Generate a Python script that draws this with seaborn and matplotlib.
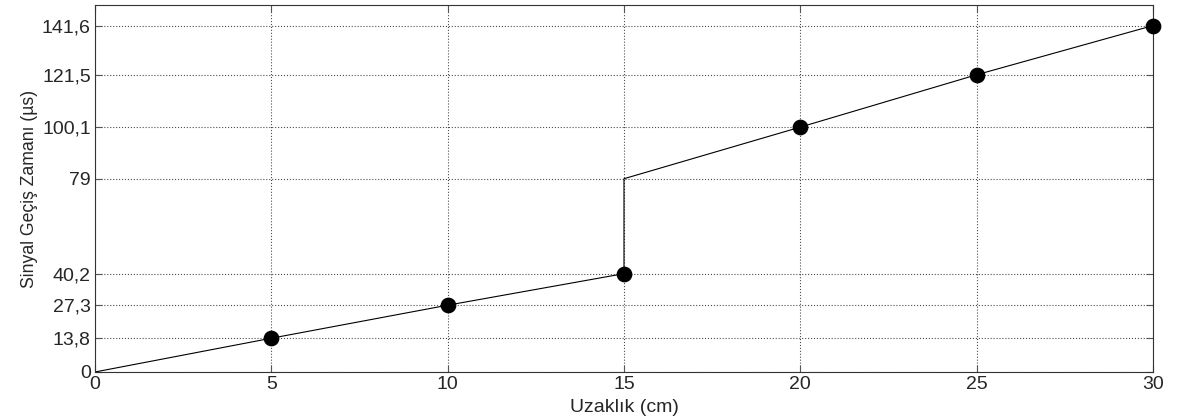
import matplotlib
matplotlib.use('Agg')
from matplotlib import pyplot as plt
import seaborn as sns
import pandas as pd

# data
line_x = [0, 5, 10, 15, 15, 20, 25, 30]
line_y = [0, 13.8, 27.3, 40.2, 79, 100.1, 121.5, 141.6]
point_x = [5, 10, 15, 20, 25, 30]
point_y = [13.8, 27.3, 40.2, 100.1, 121.5, 141.6]
y_ticks = [0, 13.8, 27.3, 40.2, 79, 100.1, 121.5, 141.6]
y_labels = ['0', '13,8', '27,3', '40,2', '79', '100,1', '121,5', '141,6']
x_ticks = [0, 5, 10, 15, 20, 25, 30]

sns.set_style('ticks')
plt.rcParams['font.family'] = ['Liberation Sans', 'DejaVu Sans']

line_df = pd.DataFrame({'x': line_x, 'y': line_y})
point_df = pd.DataFrame({'x': point_x, 'y': point_y})

f = plt.figure(figsize=(11.78, 4.19), dpi=100)
ax = f.add_axes([0.0806, 0.1122, 0.8982, 0.8758])

sns.lineplot(data=line_df, x='x', y='y', sort=False, color='black',
             linewidth=0.8, estimator=None, ax=ax)
sns.scatterplot(data=point_df, x='x', y='y', color='black', s=110,
                edgecolor='black', zorder=5, clip_on=False, ax=ax)

ax.set_xlim(0, 30)
ax.set_ylim(0, 150)
ax.set_xticks(x_ticks)
ax.set_yticks(y_ticks)
ax.set_yticklabels(y_labels)
ax.grid(True, linestyle=':', color='black', linewidth=0.8, alpha=0.7)
ax.tick_params(direction='in', length=5, top=True, right=True,
               labelsize=14, color='#555555', pad=3)
for s in ax.spines.values():
    s.set_color('#333333')
    s.set_linewidth(0.8)
ax.set_xlabel('Uzaklık (cm)', fontsize=14, labelpad=4)
ax.set_ylabel('Sinyal Geçiş Zamanı (µs)', fontsize=12.7, labelpad=3)

plt.savefig('out.png', dpi=100)
